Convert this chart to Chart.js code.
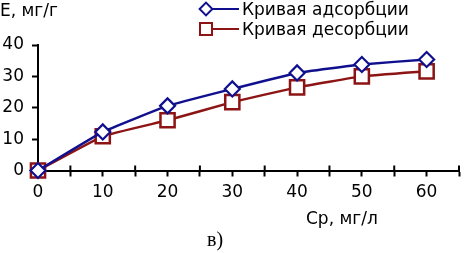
<!DOCTYPE html>
<html><head><meta charset="utf-8">
<script src="https://cdn.jsdelivr.net/npm/chart.js@4/dist/chart.umd.min.js"></script>
<style>
html,body{margin:0;padding:0;background:#fff;}
#wrap{position:relative;width:465px;height:253px;overflow:hidden;}
canvas{position:absolute;left:0;top:0;}
.t{position:absolute;font-family:"DejaVu Sans",sans-serif;font-size:17px;color:#000;white-space:nowrap;line-height:1;}
</style></head><body>
<div id="wrap">
<canvas id="c" width="465" height="253"></canvas>
<div class="t" id="ylab" style="left:0px;top:2px;">Е, мг/г</div>
<div class="t" id="xlab" style="left:306px;top:210px;">Ср, мг/л</div>
<div class="t" id="lg1" style="left:242px;top:1px;">Кривая адсорбции</div>
<div class="t" id="lg2" style="left:242px;top:21px;">Кривая десорбции</div>
<div class="t" style="left:207px;top:229px;font-family:'Liberation Serif',serif;font-size:20px;">в)</div>
</div>
<script>
const categories = [0, 10, 20, 30, 40, 50, 60];
const adsorption = [0, 12.3, 20.6, 26, 31.1, 33.8, 35.4];
const desorption = [0, 10.9, 16, 21.8, 26.5, 30, 31.6];
const yTicks = [0, 10, 20, 30, 40];
const seriesNames = ['Кривая адсорбции', 'Кривая десорбции'];

const BLUE = '#10108f', RED = '#8c1414';

const pts = arr => categories.map((c, i) => ({x: c, y: arr[i]}));

const extras = {
  id: 'extras',
  afterDraw(chart) {
    const ctx = chart.ctx, xs = chart.scales.x, ys = chart.scales.y;
    const yb = ys.getPixelForValue(0);
    ctx.save();
    ctx.strokeStyle = '#000'; ctx.lineWidth = 2;
    for (let v = 5; v <= 65; v += 10) {
      const px = Math.min(xs.getPixelForValue(v), chart.width - 1);
      ctx.beginPath(); ctx.moveTo(px, yb - 5); ctx.lineTo(px, yb); ctx.stroke();
    }
    // legend markers
    const rows = [{y: 9, ds: 0}, {y: 29, ds: 1}];
    rows.forEach(r => {
      const d = chart.data.datasets[r.ds];
      ctx.strokeStyle = d.borderColor; ctx.lineWidth = 2;
      ctx.beginPath(); ctx.moveTo(204, r.y); ctx.lineTo(239, r.y); ctx.stroke();
      ctx.fillStyle = '#fff';
      Chart.helpers.drawPoint(ctx, {pointStyle: d.pointStyle, radius: d.pointRadius * 0.85, borderWidth: 2}, 206, r.y);
    });
    ctx.restore();
  }
};

new Chart(document.getElementById('c'), {
  type: 'line',
  data: {
    datasets: [
      {label: seriesNames[0], data: pts(adsorption), borderColor: BLUE, backgroundColor: '#fff',
       borderWidth: 2.5, pointStyle: 'rectRot', pointRadius: 7.5, pointBorderWidth: 2.2,
       pointBackgroundColor: '#fff', pointBorderColor: BLUE, clip: false, tension: 0.1},
      {label: seriesNames[1], data: pts(desorption), borderColor: RED, backgroundColor: '#fff',
       borderWidth: 2.5, pointStyle: 'rect', pointRadius: 10, pointBorderWidth: 2.5,
       pointBackgroundColor: '#fff', pointBorderColor: RED, clip: false, tension: 0.1}
    ]
  },
  options: {
    responsive: false, animation: false, devicePixelRatio: 1,
    layout: {autoPadding: false, padding: {top: 45, left: 0, right: 0, bottom: 0}},
    plugins: {legend: {display: false}, tooltip: {enabled: false}},
    scales: {
      x: {
        type: 'linear', min: 0, max: 65,
        afterFit: s => { s.height = 82.5; },
        afterBuildTicks: s => { s.ticks = []; for (let v = 0; v <= 65; v += 5) s.ticks.push({value: v}); },
        border: {display: true, color: '#000', width: 2},
        grid: {drawOnChartArea: false, tickLength: 6, tickWidth: 2,
               color: c => (c.tick && c.tick.value === 0) ? 'rgba(0,0,0,0)' : '#000'},
        ticks: {color: '#000', padding: 6, maxRotation: 0, autoSkip: false,
                font: {family: 'DejaVu Sans', size: 17},
                callback: v => categories.includes(v) ? String(v) : ''}
      },
      y: {
        min: 0, max: 40,
        afterFit: s => { s.width = 38; },
        afterBuildTicks: s => { s.ticks = yTicks.map(v => ({value: v})); },
        border: {display: true, color: '#000', width: 2},
        grid: {drawOnChartArea: false, tickLength: 6, tickWidth: 2, color: '#000'},
        ticks: {color: '#000', padding: 8, font: {family: 'DejaVu Sans', size: 17}}
      }
    }
  },
  plugins: [extras]
});
</script>
</body></html>
